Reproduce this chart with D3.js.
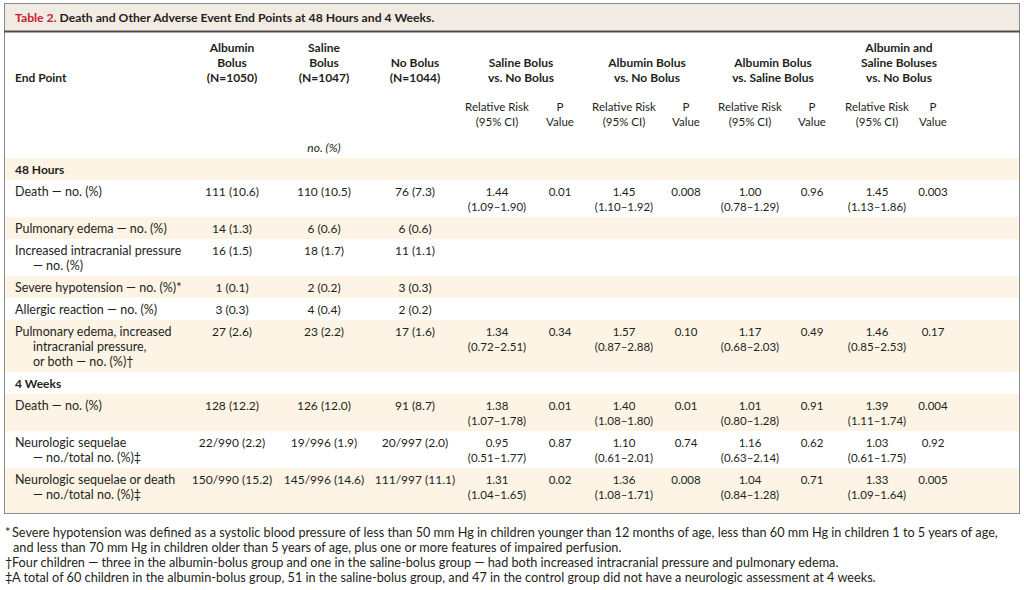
<!DOCTYPE html>
<html>
<head>
<meta charset="utf-8">
<script src="https://cdn.jsdelivr.net/npm/d3@7/dist/d3.min.js"></script>
<style>
  html, body { margin: 0; padding: 0; background: #fff; }
  svg { display: block; }
</style>
</head>
<body>
<svg id="chart" width="1024" height="590"></svg>
<script>
// ---------------- DATA ----------------
const titleLabel = "Table 2.";
const titleText = "Death and Other Adverse Event End Points at 48 Hours and 4 Weeks.";

const groupHeaders = [
  ["Albumin", "Bolus", "(N=1050)"],
  ["Saline", "Bolus", "(N=1047)"],
  ["No Bolus", "(N=1044)"]
];
const comparisonHeaders = [
  ["Saline Bolus", "vs. No Bolus"],
  ["Albumin Bolus", "vs. No Bolus"],
  ["Albumin Bolus", "vs. Saline Bolus"],
  ["Albumin and", "Saline Boluses", "vs. No Bolus"]
];
const subHeaderRR = ["Relative Risk", "(95% CI)"];
const subHeaderP = ["P", "Value"];
const unitLabel = "no. (%)";

const sections = ["48 Hours", "4 Weeks"];
const rowSection = [0, 0, 0, 0, 0, 0, 1, 1, 1];
const endPoints = [
  ["Death — no. (%)"],
  ["Pulmonary edema — no. (%)"],
  ["Increased intracranial pressure", "— no. (%)"],
  ["Severe hypotension — no. (%)*"],
  ["Allergic reaction — no. (%)"],
  ["Pulmonary edema, increased", "intracranial pressure,", "or both — no. (%)†"],
  ["Death — no. (%)"],
  ["Neurologic sequelae", "— no./total no. (%)‡"],
  ["Neurologic sequelae or death", "— no./total no. (%)‡"]
];
const albuminBolus = ["111 (10.6)", "14 (1.3)", "16 (1.5)", "1 (0.1)", "3 (0.3)", "27 (2.6)", "128 (12.2)", "22/990 (2.2)", "150/990 (15.2)"];
const salineBolus  = ["110 (10.5)", "6 (0.6)", "18 (1.7)", "2 (0.2)", "4 (0.4)", "23 (2.2)", "126 (12.0)", "19/996 (1.9)", "145/996 (14.6)"];
const noBolus      = ["76 (7.3)", "6 (0.6)", "11 (1.1)", "3 (0.3)", "2 (0.2)", "17 (1.6)", "91 (8.7)", "20/997 (2.0)", "111/997 (11.1)"];

const rrSalineVsNo   = ["1.44", "", "", "", "", "1.34", "1.38", "0.95", "1.31"];
const ciSalineVsNo   = ["(1.09–1.90)", "", "", "", "", "(0.72–2.51)", "(1.07–1.78)", "(0.51–1.77)", "(1.04–1.65)"];
const pSalineVsNo    = ["0.01", "", "", "", "", "0.34", "0.01", "0.87", "0.02"];
const rrAlbuminVsNo  = ["1.45", "", "", "", "", "1.57", "1.40", "1.10", "1.36"];
const ciAlbuminVsNo  = ["(1.10–1.92)", "", "", "", "", "(0.87–2.88)", "(1.08–1.80)", "(0.61–2.01)", "(1.08–1.71)"];
const pAlbuminVsNo   = ["0.008", "", "", "", "", "0.10", "0.01", "0.74", "0.008"];
const rrAlbuminVsSal = ["1.00", "", "", "", "", "1.17", "1.01", "1.16", "1.04"];
const ciAlbuminVsSal = ["(0.78–1.29)", "", "", "", "", "(0.68–2.03)", "(0.80–1.28)", "(0.63–2.14)", "(0.84–1.28)"];
const pAlbuminVsSal  = ["0.96", "", "", "", "", "0.49", "0.91", "0.62", "0.71"];
const rrBothVsNo     = ["1.45", "", "", "", "", "1.46", "1.39", "1.03", "1.33"];
const ciBothVsNo     = ["(1.13–1.86)", "", "", "", "", "(0.85–2.53)", "(1.11–1.74)", "(0.61–1.75)", "(1.09–1.64)"];
const pBothVsNo      = ["0.003", "", "", "", "", "0.17", "0.004", "0.92", "0.005"];

const footnotes = [
  ["*", "Severe hypotension was defined as a systolic blood pressure of less than 50 mm Hg in children younger than 12 months of age, less than 60 mm Hg in children 1 to 5 years of age,"],
  ["", "and less than 70 mm Hg in children older than 5 years of age, plus one or more features of impaired perfusion."],
  ["†", "Four children — three in the albumin-bolus group and one in the saline-bolus group — had both increased intracranial pressure and pulmonary edema."],
  ["‡", "A total of 60 children in the albumin-bolus group, 51 in the saline-bolus group, and 47 in the control group did not have a neurologic assessment at 4 weeks."]
];

// ---------------- LAYOUT ----------------
const W = 1024, H = 590;
const svg = d3.select("#chart");
const FONT = "Lato, 'Open Sans', 'Noto Sans', sans-serif";
const INK = "#231f20";
const CREAM = "#fdf4e5";

const box = {left: 4, right: 1020, top: 3, bottom: 514, titleBottom: 31};

const colKeys = ["alb", "sal", "nob", "rr1", "p1", "rr2", "p2", "rr3", "p3", "rr4", "p4"];
const x = d3.scaleOrdinal().domain(colKeys).range([232, 324, 415, 497, 560, 624, 686, 750, 812, 877, 933]);
const groupX = d3.scaleOrdinal().domain([0, 1, 2, 3]).range([521, 647, 773, 899]);
const labelX = 15, indent = 18;
const lineH = 15;

// background
svg.append("rect").attr("width", W).attr("height", H).attr("fill", "#fff");

// title bar
svg.append("rect")
  .attr("x", box.left).attr("y", box.top)
  .attr("width", box.right - box.left).attr("height", box.titleBottom - box.top)
  .attr("fill", "#f2ebe4");
const title = svg.append("text")
  .attr("x", labelX).attr("y", 21.5)
  .attr("font-family", FONT).attr("font-size", 12.2).attr("font-weight", "bold").attr("fill", INK);
title.append("tspan").attr("fill", "#c8202f").text(titleLabel + " ");
title.append("tspan").text(titleText);

// rows layout
const rows = [];
let yCursor = 158;
sections.forEach((s, si) => {
  rows.push({type: "section", label: [s], h: 7 + lineH, y: yCursor});
  yCursor += 7 + lineH;
  rowSection.forEach((sec, i) => {
    if (sec !== si) return;
    const nLines = Math.max(endPoints[i].length, ciSalineVsNo[i] ? 2 : 1);
    const h = 7 + lineH * nLines;
    rows.push({type: "data", idx: i, label: endPoints[i], h: h, y: yCursor});
    yCursor += h;
  });
});
rows[rows.length - 1].h = box.bottom - rows[rows.length - 1].y;

// striped bands
svg.append("g").selectAll("rect").data(rows).join("rect")
  .attr("x", box.left).attr("width", box.right - box.left)
  .attr("y", d => d.y).attr("height", d => d.h)
  .attr("fill", (d, i) => i % 2 === 0 ? CREAM : "#fff");

// borders
svg.append("rect")
  .attr("x", box.left + 0.5).attr("y", box.top + 0.5)
  .attr("width", box.right - box.left - 1).attr("height", box.bottom - box.top - 1)
  .attr("fill", "none").attr("stroke", "#8a8a8a").attr("stroke-width", 1);
svg.append("line")
  .attr("x1", box.left).attr("x2", box.right)
  .attr("y1", box.titleBottom + 0.5).attr("y2", box.titleBottom + 0.5)
  .attr("stroke", "#4a4a4a").attr("stroke-width", 2);

// header
const head = svg.append("g").attr("font-family", FONT).attr("font-size", 12).attr("fill", INK);
const hb = [51.5, 66.5, 81.5];
head.append("text").attr("x", labelX).attr("y", hb[2]).attr("font-weight", "bold").text("End Point");

function stackedText(g, lines, cx, baselines, bold, size) {
  const off = baselines.length - lines.length;
  lines.forEach((t, k) => {
    const el = g.append("text").attr("x", cx).attr("y", baselines[k + off])
      .attr("text-anchor", "middle").attr("font-weight", bold ? "bold" : "normal").text(t);
    if (size) el.attr("font-size", size);
  });
}
groupHeaders.forEach((lines, i) => stackedText(head, lines, x(colKeys[i]), hb, true));
comparisonHeaders.forEach((lines, i) => stackedText(head, lines, groupX(i), hb, true));
[0, 1, 2, 3].forEach(i => {
  stackedText(head, subHeaderRR, x("rr" + (i + 1)), [110.5, 125.5], false, 11.5);
  stackedText(head, subHeaderP, x("p" + (i + 1)), [110.5, 125.5], false, 11.5);
});
head.append("text").attr("x", x("sal")).attr("y", 152).attr("text-anchor", "middle")
  .attr("font-style", "italic").text(unitLabel);

// body
const body = svg.append("g").attr("font-family", FONT).attr("font-size", 12).attr("fill", INK);
const base = d => d.y + 16;

rows.forEach(r => {
  if (r.type === "section") {
    body.append("text").attr("x", labelX).attr("y", base(r)).attr("font-weight", "bold").text(r.label[0]);
    return;
  }
  r.label.forEach((t, k) => {
    body.append("text").attr("x", labelX + (k > 0 ? indent : 0)).attr("y", base(r) + k * lineH)
      .attr("font-size", 12.5).text(t);
  });
  const i = r.idx;
  const cells = [
    ["alb", albuminBolus[i], 0], ["sal", salineBolus[i], 0], ["nob", noBolus[i], 0],
    ["rr1", rrSalineVsNo[i], 0], ["rr1", ciSalineVsNo[i], 1], ["p1", pSalineVsNo[i], 0],
    ["rr2", rrAlbuminVsNo[i], 0], ["rr2", ciAlbuminVsNo[i], 1], ["p2", pAlbuminVsNo[i], 0],
    ["rr3", rrAlbuminVsSal[i], 0], ["rr3", ciAlbuminVsSal[i], 1], ["p3", pAlbuminVsSal[i], 0],
    ["rr4", rrBothVsNo[i], 0], ["rr4", ciBothVsNo[i], 1], ["p4", pBothVsNo[i], 0]
  ];
  cells.forEach(([k, t, line]) => {
    if (!t) return;
    const el = body.append("text").attr("x", x(k)).attr("y", base(r) + line * lineH)
      .attr("text-anchor", "middle").text(t);
    if (k.startsWith("rr") || k.startsWith("p")) el.attr("font-size", 11.5);
  });
});

// footnotes
const fn = svg.append("g").attr("font-family", FONT).attr("font-size", 12.7).attr("fill", INK);
footnotes.forEach(([mark, text], k) => {
  const yy = 537 + k * 15;
  if (mark) fn.append("text").attr("x", 5).attr("y", yy).text(mark);
  fn.append("text").attr("x", mark ? 12 : 13).attr("y", yy).text(text);
});
</script>
</body>
</html>
